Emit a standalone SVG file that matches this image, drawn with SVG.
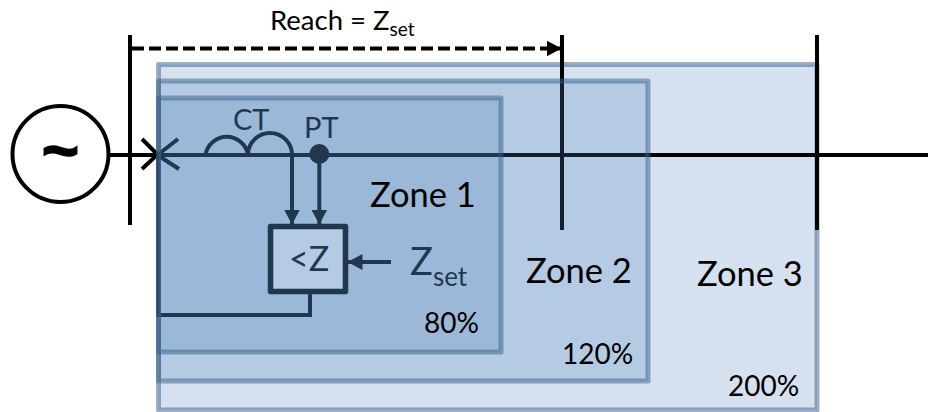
<svg xmlns="http://www.w3.org/2000/svg" width="928" height="412" viewBox="0 0 928 412">
<defs>
<marker id="head" markerUnits="userSpaceOnUse" markerWidth="16" markerHeight="18" refX="14.500" refY="8.500" orient="auto"><path d="M0 0.500L15 8.500L0 16.500Z" fill="#000"/></marker>
</defs>
<style>
.zone{fill:#4f81bd;fill-opacity:.24;stroke:#385d8a;stroke-opacity:.5;stroke-width:5;stroke-linejoin:round}
.ln{fill:none;stroke:#000;stroke-width:4}
.t{font-family:Lato,"Liberation Sans",sans-serif;fill:#000}
</style>
<rect width="928" height="412" fill="#fff"/>
<g id="zone3"><rect class="zone" x="158.500" y="64.500" width="658.500" height="345.500"/></g>
<g id="connectors">
<path class="ln" d="M110 155H928"/>
<path class="ln" d="M130 35V225"/>
<path class="ln" d="M562 35V230"/>
<path class="ln" d="M817 35V230"/>
<path class="ln" d="M132 48.500H561" stroke-dasharray="12 5" marker-end="url(#head)"/>
<path class="ln" d="M310 294V315H158.500V155"/>
<path class="ln" d="M292 155V224" marker-end="url(#head)"/>
<path class="ln" d="M319.300 155V224" marker-end="url(#head)"/>
<path class="ln" d="M391 262H348" marker-end="url(#head)"/>
</g>
<g id="generator"><circle cx="60.500" cy="154" r="48" fill="#fff" stroke="#000" stroke-width="4"/><text x="60.500" y="172" text-anchor="middle" font-family="Liberation Sans, sans-serif" font-weight="700" font-size="64" stroke="#000" stroke-width="1.500">~</text></g>
<g id="breaker"><path class="ln" d="M142 139L157.500 154.500L142 169M178 139L157.500 155L179 169"/></g>
<g id="ct"><path class="ln" d="M205.500 155A21.500 21.500 0 0 1 248 155A21.500 21.500 0 0 1 292 155"/><text class="t" x="233" y="130" font-size="29">CT</text></g>
<g id="pt"><circle cx="319.300" cy="154" r="10" fill="#000"/><text class="t" x="304" y="138" font-size="29">PT</text></g>
<g id="relay"><rect x="270.500" y="226.500" width="75" height="65" fill="#fff" stroke="#000" stroke-width="5.500" stroke-linejoin="round"/><text class="t" x="289" y="271" font-size="34">&lt;Z</text></g>
<g id="zset"><text class="t" x="410" y="275" font-size="38">Z<tspan font-size="26" dy="11">set</tspan></text></g>
<g id="zone2"><rect class="zone" x="158.500" y="81" width="489.500" height="300"/></g>
<g id="zone1"><rect class="zone" x="158.500" y="98" width="342.500" height="254"/></g>
<g id="labels">
<text class="t" x="270" y="30" font-size="27.500">Reach = Z<tspan font-size="19" dy="6">set</tspan></text>
<text class="t" x="370" y="207" font-size="34.500">Zone 1</text>
<text class="t" x="526" y="283" font-size="34.500">Zone 2</text>
<text class="t" x="697" y="286" font-size="34.500">Zone 3</text>
<text class="t" x="424" y="333" font-size="28">80%</text>
<text class="t" x="562" y="364" font-size="28">120%</text>
<text class="t" x="728" y="396" font-size="28">200%</text>
</g>
</svg>
